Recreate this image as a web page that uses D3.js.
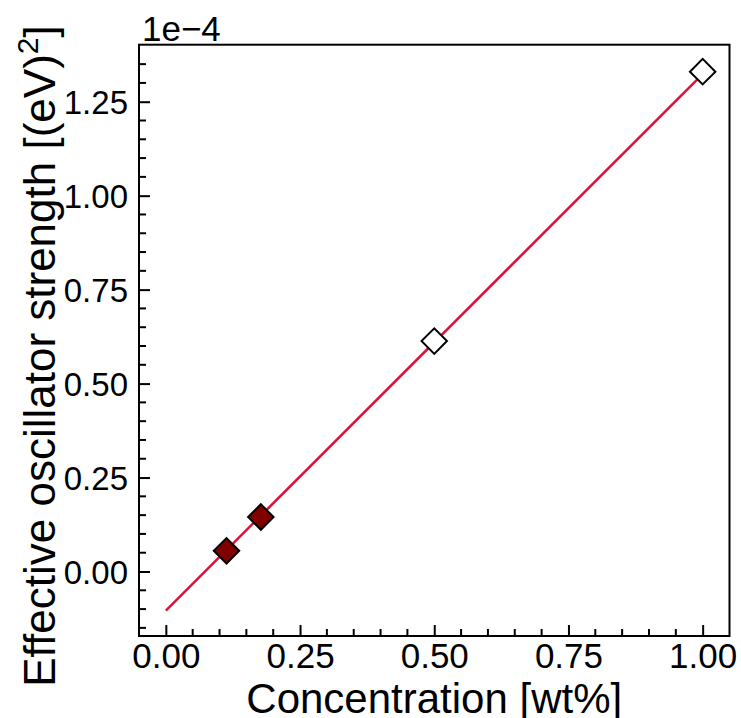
<!DOCTYPE html>
<html>
<head>
<meta charset="utf-8">
<script src="https://cdn.jsdelivr.net/npm/d3@7"></script>
<style>
  html, body { margin: 0; padding: 0; background: #fff; }
  svg { display: block; font-family: "Liberation Sans", Arial, sans-serif; }
</style>
</head>
<body>
<svg id="chart" width="741" height="718"></svg>
<script>
// Measured samples (concentration in wt%, oscillator strength in units of 1e-4 eV^2)
const filledConc = [0.113, 0.177];
const filledStrength = [0.055, 0.145];
const openConc = [0.5, 1.0];
const openStrength = [0.613, 1.33];

// Linear fit drawn from 0 to 1 wt%
const fitConc = [0.0, 1.0];
const fitStrength = [-0.104, 1.3235];

const xTicks = [0.00, 0.25, 0.50, 0.75, 1.00];
const yTicks = [0.00, 0.25, 0.50, 0.75, 1.00, 1.25];
const xMinor = [-0.05, 0.05, 0.10, 0.15, 0.20, 0.30, 0.35, 0.40, 0.45, 0.55, 0.60, 0.65, 0.70, 0.80, 0.85, 0.90, 0.95, 1.05];
const yMinor = [-0.15, -0.10, -0.05, 0.05, 0.10, 0.15, 0.20, 0.30, 0.35, 0.40, 0.45, 0.55, 0.60, 0.65, 0.70, 0.80, 0.85, 0.90, 0.95, 1.05, 1.10, 1.15, 1.20, 1.30, 1.35, 1.40];

const svg = d3.select("#chart");
const L = 139, R = 729.5, T = 44.7, B = 636;

const x = d3.scaleLinear().domain([-0.05, 1.05]).range([L, R]);
const y = d3.scaleLinear().domain([-0.1716, 1.4017]).range([B, T]);

const fmt = d3.format(".2f");
const FONT = "Liberation Sans, Arial, sans-serif";

// Fit line
const line = d3.line().x(d => x(d[0])).y(d => y(d[1]));
svg.append("path")
  .datum(d3.zip(fitConc, fitStrength))
  .attr("d", line)
  .attr("fill", "none")
  .attr("stroke", "#DC143C")
  .attr("stroke-width", 2.6);

// Diamond markers
const diamond = d3.symbol().type(d3.symbolSquare).size(18 * 18);
function drawPoints(xs, ys, fill) {
  svg.append("g").selectAll("path")
    .data(d3.zip(xs, ys))
    .join("path")
    .attr("d", diamond)
    .attr("transform", d => `translate(${x(d[0])},${y(d[1])}) rotate(45)`)
    .attr("fill", fill)
    .attr("stroke", "#000")
    .attr("stroke-width", 2);
}
drawPoints(filledConc, filledStrength, "#800000");
drawPoints(openConc, openStrength, "#ffffff");

// Frame
svg.append("rect")
  .attr("x", L).attr("y", T).attr("width", R - L).attr("height", B - T)
  .attr("fill", "none").attr("stroke", "#000").attr("stroke-width", 2);

// Minor ticks, pointing inward
svg.append("g").attr("class", "xminor").selectAll("line")
  .data(xMinor.filter(v => x(v) > L + 1 && x(v) < R - 1))
  .join("line")
  .attr("x1", d => x(d)).attr("x2", d => x(d))
  .attr("y1", B).attr("y2", B - 7)
  .style("stroke", "#000").style("stroke-width", "2px");
svg.append("g").attr("class", "yminor").selectAll("line")
  .data(yMinor.filter(v => y(v) < B - 1 && y(v) > T + 1))
  .join("line")
  .attr("x1", L).attr("x2", L + 7)
  .attr("y1", d => y(d)).attr("y2", d => y(d))
  .style("stroke", "#000").style("stroke-width", "2px");

// Major ticks and labels from D3 axes
const gx = svg.append("g").attr("transform", `translate(0,${B})`)
  .call(d3.axisBottom(x).tickValues(xTicks).tickFormat(fmt).tickSizeOuter(0));
gx.select(".domain").remove();
gx.selectAll(".tick line")
  .attr("y1", 0).attr("y2", -11)
  .style("stroke", "#000").style("stroke-width", "2px");
gx.selectAll(".tick text")
  .attr("y", 32).attr("dy", null)
  .attr("text-anchor", "middle")
  .style("font-size", "35px").style("font-family", FONT).style("fill", "#000");

const gy = svg.append("g").attr("transform", `translate(${L},0)`)
  .call(d3.axisLeft(y).tickValues(yTicks).tickFormat(fmt).tickSizeOuter(0));
gy.select(".domain").remove();
gy.selectAll(".tick line")
  .attr("x1", 0).attr("x2", 11)
  .style("stroke", "#000").style("stroke-width", "2px");
gy.selectAll(".tick text")
  .attr("x", -11).attr("dy", "0.36em")
  .attr("text-anchor", "end")
  .style("font-size", "33px").style("font-family", FONT).style("fill", "#000");

// Offset label
svg.append("text")
  .attr("x", 142).attr("y", 41)
  .style("font-size", "35px")
  .text("1e\u22124");

// Axis titles
svg.append("text")
  .attr("x", (L + R) / 2).attr("y", 713)
  .attr("text-anchor", "middle")
  .style("font-size", "42px")
  .text("Concentration [wt%]");

const yl = svg.append("text")
  .attr("transform", `translate(55,356) rotate(-90)`)
  .attr("text-anchor", "middle")
  .style("font-size", "44px");
yl.append("tspan").text("Effective oscillator strength [(eV)");
yl.append("tspan").style("font-size", "30px").attr("dy", -17).text("2");
yl.append("tspan").attr("dy", 17).text("]");
</script>
</body>
</html>
